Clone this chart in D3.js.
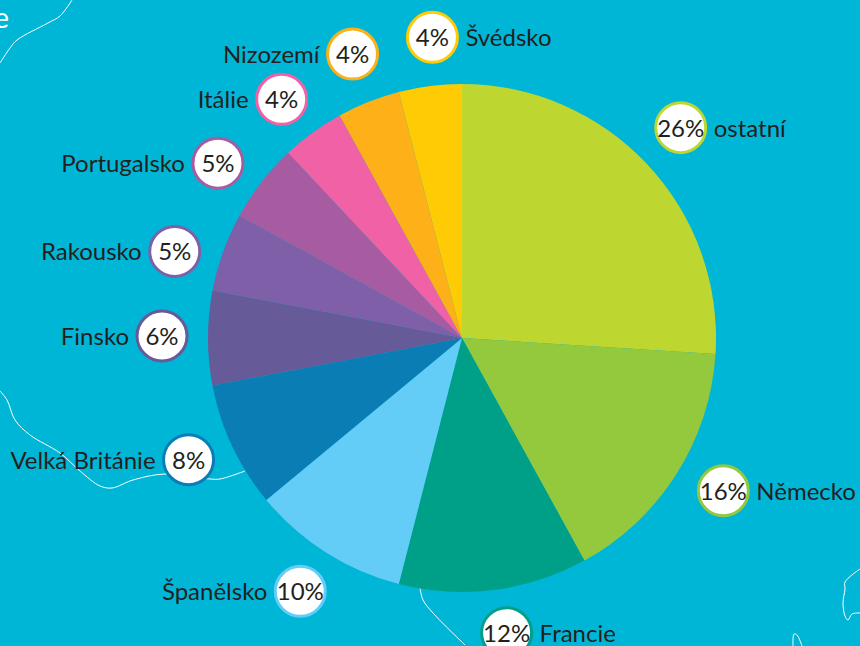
<!DOCTYPE html>
<html>
<head>
<meta charset="utf-8">
<script src="https://cdn.jsdelivr.net/npm/d3@7"></script>
<style>
  html, body { margin: 0; padding: 0; background: #00b6d6; overflow: hidden; }
  text { font-family: Lato, "Open Sans", sans-serif; }
</style>
</head>
<body>
<div id="chart-area"></div>
<script>
var countries = ["ostatní", "Německo", "Francie", "Španělsko", "Velká Británie", "Finsko",
                 "Rakousko", "Portugalsko", "Itálie", "Nizozemí", "Švédsko"];
var shares = [26, 16, 12, 10, 8, 6, 5, 5, 4, 4, 4];
var sliceColors = ["#bed730", "#94c93d", "#009f88", "#63ccf7", "#0b7db5", "#665a98",
                   "#7e5fa8", "#a75ca2", "#f061a5", "#fdb017", "#ffcb05"];

// nudges of each badge away from its spot on the label ring, the original was placed by hand
var badgeNudges = [[0, -5], [8, -8], [7, -3], [-1, 0], [-2, -6], [0, -2],
                   [-5, 15], [-7, 9], [-4, 4], [1, -5], [8, -3]];

// white map outlines behind the chart
var mapLines = [
    [[72, 0], [60, 16], [48, 23], [17, 40], [10, 48], [0, 63]],
    [[0, 391], [7, 400], [15, 420], [30, 435], [60, 453], [80, 471], [100, 486], [112, 488], [133, 480], [165, 474],
     [210, 479], [220, 479], [245, 471]],
    [[420, 588], [423, 600], [433, 613], [465, 645]],
    [[860, 569], [845, 582], [845, 589], [843, 603], [845, 616], [848, 620], [852, 614], [860, 613]],
    [[793, 646], [794, 634], [797, 635], [802, 646]]
];

var width = 860,
    height = 646,
    cx = 462,
    cy = 338,
    radius = 254,
    labelRadius = 300,
    badgeR = 25;

var svg = d3.select("#chart-area")
    .append("svg")
        .attr("width", width)
        .attr("height", height);

svg.append("rect")
    .attr("width", width)
    .attr("height", height)
    .attr("fill", "#00b6d6");

var line = d3.line().curve(d3.curveCatmullRom);

svg.selectAll(".map-line")
    .data(mapLines)
    .enter()
    .append("path")
        .attr("class", "map-line")
        .attr("d", line)
        .attr("fill", "none")
        .attr("stroke", "#fff")
        .attr("stroke-width", 1);

svg.append("text")
    .attr("x", 9)
    .attr("y", 28)
    .attr("text-anchor", "end")
    .attr("font-size", "29px")
    .attr("fill", "#fff")
    .text("e");

var pie = d3.pie().sort(null)(shares);
var arc = d3.arc().innerRadius(0).outerRadius(radius);
var labelArc = d3.arc().innerRadius(labelRadius).outerRadius(labelRadius);

var g = svg.append("g")
    .attr("transform", "translate(" + cx + ", " + cy + ")");

g.selectAll(".slice")
    .data(pie)
    .enter()
    .append("path")
        .attr("class", "slice")
        .attr("d", arc)
        .attr("fill", function(d, i){ return sliceColors[i]; });

var badges = g.selectAll(".badge")
    .data(pie)
    .enter()
    .append("g")
        .attr("class", "badge")
        .attr("transform", function(d, i){
            var c = labelArc.centroid(d);
            return "translate(" + (c[0] + badgeNudges[i][0]) + ", " + (c[1] + badgeNudges[i][1]) + ")";
        });

badges.append("circle")
    .attr("r", badgeR)
    .attr("fill", "#fff")
    .attr("stroke", function(d, i){ return sliceColors[i]; })
    .attr("stroke-width", 3);

badges.append("text")
    .attr("text-anchor", "middle")
    .attr("y", 9)
    .attr("font-size", "24px")
    .attr("fill", "#231f20")
    .text(function(d){ return d.value + "%"; });

// names go right of the badge on the right side of the pie, left otherwise
function onRight(i) { return i < 3 || i == 10; }

badges.append("text")
    .attr("x", function(d, i){ return onRight(i) ? badgeR + 8 : -badgeR - 8; })
    .attr("y", 9)
    .attr("text-anchor", function(d, i){ return onRight(i) ? "start" : "end"; })
    .attr("font-size", "24px")
    .attr("fill", "#231f20")
    .text(function(d, i){ return countries[i]; });
</script>
</body>
</html>
